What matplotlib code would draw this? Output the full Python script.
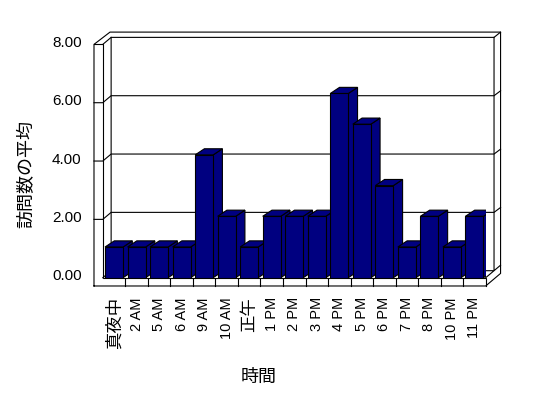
import numpy as np
import matplotlib.pyplot as plt
from matplotlib.patches import Polygon

plt.rcParams['font.family'] = ['Liberation Sans', 'Noto Sans CJK JP']

# データ
categories = ['真夜中', '2 AM', '5 AM', '6 AM', '9 AM', '10 AM', '正午', '1 PM',
              '2 PM', '3 PM', '4 PM', '5 PM', '6 PM', '7 PM', '8 PM', '10 PM', '11 PM']
visits = [1, 1, 1, 1, 4, 2, 1, 2, 2, 2, 6, 5, 3, 1, 2, 1, 2]
yticks = [0, 2, 4, 6, 8]

navy = '#000080'
lw = 0.8

fig = plt.figure(figsize=(5.48, 3.98), dpi=100)
ax = fig.add_axes([102.8 / 548, (398 - 277.7) / 398, 382.9 / 548, 245.6 / 398])
ax.set_xlim(-0.5, 16.5)
ax.set_ylim(0, 8)
ax.axis('off')


def line(xs, ys):
    ax.plot(xs, ys, color='black', lw=lw, clip_on=False, zorder=1,
            solid_joinstyle='miter')


# 壁と床 (擬似3D)
kb = 0.95          # 奥の壁の縦倍率
dxw, dyw = 0.37, 0.228
xl_out, xl_in = -0.891, -0.5
xr, xr_in, xr_out = 16.5, 16.5 + dxw, 17.16
ybot = -0.27
ytop = kb * 8

line([xl_out, xl_out, -0.18, xr_out, xr_out, xr, xl_out],
     [ybot, ytop, 8.0, 8.0, 0.14, ybot, ybot])
line([xl_out, xl_in, xl_in, xr, xr], [ytop, ytop, 0, 0, ybot])
line([xl_in, xl_in + dxw, xr_in, xr_out], [ytop, dyw + ytop, dyw + ytop, 8.0])
line([xl_in + dxw, xl_in + dxw, xl_in], [dyw + ytop, dyw, 0])
line([xl_in + dxw, xr_in, xr], [dyw, dyw, 0])
line([xr_in, xr_in, xr_out], [dyw + ytop, dyw, dyw + 0.18])

# 目盛線
for v in yticks[1:-1]:
    line([xl_out, xl_in, xl_in + dxw, xr_in, xr_out],
         [kb * v, kb * v, dyw + kb * v, dyw + kb * v, dyw + kb * v + 0.16])

# 床の区切り
for i in range(len(categories) - 1):
    line([i + 0.5, i + 0.5], [0, ybot])

# 棒
x = np.arange(len(categories))
w = 0.8
dxb, dyb = 0.41, 0.2
bars = ax.bar(x, visits, width=w, color=navy, edgecolor='black', lw=lw)
for i, (b, v) in enumerate(zip(bars, visits)):
    b.set_zorder(3 + i + 0.5)
    x0, x1 = i - w / 2, i + w / 2
    side = Polygon([(x1, 0), (x1, v), (x1 + dxb, v + dyb), (x1 + dxb, dyb)],
                   closed=True, facecolor=navy, edgecolor='black', lw=lw,
                   zorder=3 + i)
    top = Polygon([(x0, v), (x1, v), (x1 + dxb, v + dyb), (x0 + dxb, v + dyb)],
                  closed=True, facecolor=navy, edgecolor='black', lw=lw,
                  zorder=3 + i)
    ax.add_patch(side)
    ax.add_patch(top)

# 目盛ラベル
for v in yticks:
    ax.text(-1.437, kb * v + 0.05, f'{v:.2f}', ha='right', va='center',
            fontsize=11)

for i, c in enumerate(categories):
    cjk = not c[0].isdigit()
    ax.text(i, -0.63, c, rotation=90, ha='center', va='top',
            fontsize=12.5 if cjk else 10.5)

ax.text(-3.888, 3.378, '訪問数の平均', rotation=90, ha='center', va='center',
        fontsize=13)
ax.text(6.427, -3.25, '時間', ha='center', va='center', fontsize=13)

fig.savefig('out.png', dpi=100)
